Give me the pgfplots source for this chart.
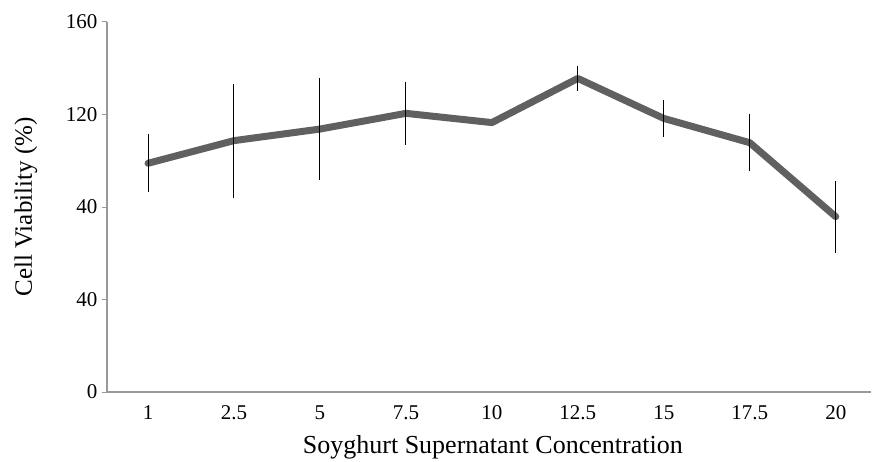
\documentclass[border=0pt]{standalone}
\usepackage{fontspec}
\setmainfont{Liberation Serif}
\usepackage{pgfplots}
\pgfplotsset{compat=1.18}
\definecolor{lineg}{HTML}{606060}
\definecolor{axisg}{HTML}{999999}

\pgfplotstableread{
x  y      e
0  98.9   12.5
1  108.7  24.7
2  113.7  22.0
3  120.5  13.5
4  116.5  0
5  135.6  5.5
6  118.3  8.0
7  107.8  12.2
8  75.8   15.5
}\viability

\begin{document}
\begin{tikzpicture}[x=1pt,y=1pt]
% page frame: 872 x 461, axis box from (107,22) to (871,392) in pixel terms
\useasboundingbox (-107pt,-69pt) rectangle (765pt,392pt);
\begin{axis}[
    at={(0pt,0pt)}, anchor=south west,
    scale only axis,
    width=764pt, height=370pt,
    xmin=-0.477, xmax=8.41,
    ymin=0, ymax=160,
    axis x line*=bottom, axis y line*=left,
    axis line style={axisg, line width=1.2pt},
    xtick=data,
    xticklabels={1,2.5,5,7.5,10,12.5,15,17.5,20},
    xtick style={draw=none},
    ytick={0,40,80,120,160},
    yticklabels={0,40,40,120,160},
    ytick style={axisg, line width=1pt},
    tick align=outside,
    major tick length=5pt,
    tick label style={font=\fontsize{21}{23}\selectfont, text=black},
    xticklabel style={anchor=base, yshift=-22pt},
    yticklabel style={xshift=-1pt},
    xlabel={Soyghurt Supernatant Concentration},
    ylabel={Cell Viability (\%)},
    xlabel style={font=\fontsize{26}{28}\selectfont,
        at={(axis description cs:0.505,-0.165)}, anchor=base},
    ylabel style={font=\fontsize{25}{27}\selectfont,
        at={(axis description cs:-0.106,0.5)}, anchor=center},
    clip=false,
]
\addplot[lineg, line width=7pt, line cap=round, line join=round, no marks]
    table[x=x, y=y] {\viability};
\addplot[draw=none, no marks,
    error bars/.cd, y dir=both, y explicit,
    error mark=none,
    error bar style={black, line width=1pt}]
    table[x=x, y=y, y error=e] {\viability};
\end{axis}
\end{tikzpicture}
\end{document}
